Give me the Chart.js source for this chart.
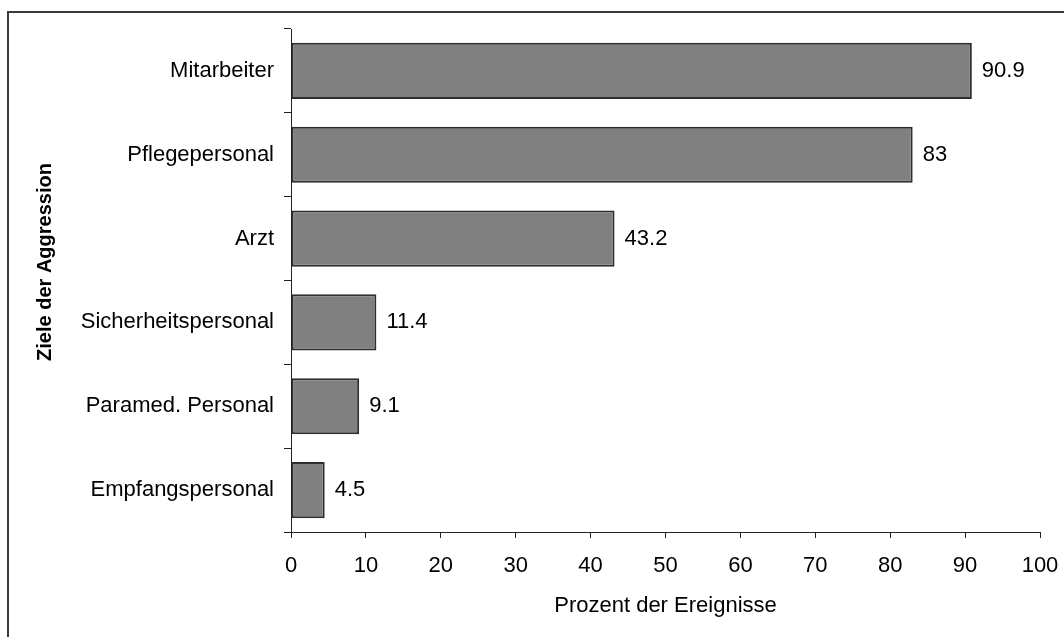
<!DOCTYPE html>
<html>
<head>
<meta charset="utf-8">
<script src="https://cdn.jsdelivr.net/npm/chart.js@4/dist/chart.umd.min.js"></script>
<style>
  html, body { margin: 0; padding: 0; background: #ffffff; }
  #wrap { width: 1064px; height: 637px; }
</style>
</head>
<body>
<div id="wrap"><canvas id="chart" width="1064" height="637"></canvas></div>
<script>
// Targets of aggression and share of incidents (%)
const categories = ['Mitarbeiter', 'Pflegepersonal', 'Arzt', 'Sicherheitspersonal', 'Paramed. Personal', 'Empfangspersonal'];
const percentValues = [90.9, 83, 43.2, 11.4, 9.1, 4.5];
const xTickValues = [0, 10, 20, 30, 40, 50, 60, 70, 80, 90, 100];
const xTitle = 'Prozent der Ereignisse';
const yTitle = 'Ziele der Aggression';

const FONT = "'Liberation Sans', Arial, sans-serif";

// Outer frame (top and left edges) and white background
const framePlugin = {
  id: 'frame',
  beforeDraw(chart) {
    const ctx = chart.ctx;
    ctx.save();
    ctx.fillStyle = '#ffffff';
    ctx.fillRect(0, 0, chart.width, chart.height);
    ctx.strokeStyle = '#3a3a3a';
    ctx.lineWidth = 2;
    ctx.beginPath();
    ctx.moveTo(8, chart.height);
    ctx.lineTo(8, 12);
    ctx.lineTo(chart.width, 12);
    ctx.stroke();
    ctx.restore();
  }
};

// Rotated bold title for the category axis
const yTitlePlugin = {
  id: 'yTitle',
  afterDraw(chart) {
    const ctx = chart.ctx;
    ctx.save();
    ctx.translate(45, 262);
    ctx.rotate(-Math.PI / 2);
    ctx.font = 'bold 20px ' + FONT;
    ctx.fillStyle = '#000000';
    ctx.textAlign = 'center';
    ctx.textBaseline = 'middle';
    ctx.fillText(yTitle, 0, 0);
    ctx.restore();
  }
};

// Value printed to the right of each bar
const valueLabelPlugin = {
  id: 'valueLabels',
  afterDatasetsDraw(chart) {
    const ctx = chart.ctx;
    const meta = chart.getDatasetMeta(0);
    ctx.save();
    ctx.font = '22px ' + FONT;
    ctx.fillStyle = '#000000';
    ctx.textAlign = 'left';
    ctx.textBaseline = 'middle';
    meta.data.forEach((bar, i) => {
      ctx.fillText(String(percentValues[i]), bar.x + 10, bar.y);
    });
    ctx.restore();
  }
};

new Chart(document.getElementById('chart'), {
  type: 'bar',
  data: {
    labels: categories,
    datasets: [{
      data: percentValues,
      backgroundColor: '#808080',
      borderColor: '#2e2e2e',
      borderWidth: 2,
      borderSkipped: false,
      categoryPercentage: 1.0,
      barPercentage: 0.67
    }]
  },
  options: {
    indexAxis: 'y',
    responsive: false,
    animation: false,
    devicePixelRatio: 1,
    layout: { padding: { top: 29, right: 24, left: 0, bottom: 0 } },
    plugins: {
      legend: { display: false },
      tooltip: { enabled: false }
    },
    scales: {
      x: {
        type: 'linear',
        min: 0,
        max: 100,
        afterBuildTicks(scale) {
          scale.ticks = xTickValues.map(v => ({ value: v }));
        },
        afterFit(scale) {
          scale.height = 105;
          scale.paddingLeft = 0;
          scale.paddingRight = 0;
        },
        grid: {
          drawOnChartArea: false,
          drawTicks: true,
          tickLength: 6,
          color: '#222222',
          lineWidth: 1
        },
        border: { display: true, color: '#222222', width: 1 },
        ticks: {
          color: '#000000',
          padding: 15,
          maxRotation: 0,
          font: { family: FONT, size: 22 }
        },
        title: {
          display: true,
          text: xTitle,
          color: '#000000',
          padding: { top: 0, bottom: 18 },
          font: { family: FONT, size: 22 }
        }
      },
      y: {
        type: 'category',
        offset: true,
        afterFit(scale) {
          scale.width = 291;
          scale.paddingTop = 0;
          scale.paddingBottom = 0;
        },
        grid: {
          offset: true,
          drawOnChartArea: false,
          drawTicks: true,
          tickLength: 7,
          color: '#222222',
          lineWidth: 1
        },
        border: { display: true, color: '#222222', width: 1 },
        ticks: {
          color: '#000000',
          padding: 10,
          font: { family: FONT, size: 22 }
        }
      }
    }
  },
  plugins: [framePlugin, yTitlePlugin, valueLabelPlugin]
});
</script>
</body>
</html>
